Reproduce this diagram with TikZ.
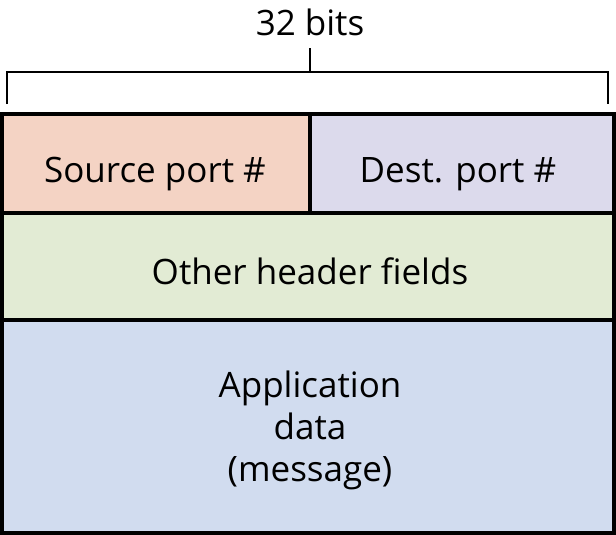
\documentclass[tikz,border=0pt]{standalone}
\usepackage{fontspec}
\setmainfont{Open Sans}
\definecolor{cs}{HTML}{F4D3C4}
\definecolor{cd}{HTML}{DCDAEC}
\definecolor{cg}{HTML}{E2EBD4}
\definecolor{cb}{HTML}{D1DCEF}
\tikzset{fld/.style={draw=black,line width=3.5pt},lbl/.style={font=\fontsize{35}{42}\selectfont,align=center}}
\begin{document}
\begin{tikzpicture}[x=1pt,y=-1pt]
\useasboundingbox (0,0) rectangle (616,535);
\fill[cs] (2,114) rectangle (310,213);
\fill[cd] (310,114) rectangle (614,213);
\fill[cg] (2,213) rectangle (614,320);
\fill[cb] (2,320) rectangle (614,533);
\draw[fld] (2,114) rectangle (614,533);
\draw[fld] (2,213) -- (614,213);
\draw[fld] (2,320) -- (614,320);
\draw[fld] (310,114) -- (310,213);
\node[lbl] (src) at (155,174) {Source port \#};
\node[lbl] (dst) at (458,174) {Dest. port \#};
\node[lbl] (oth) at (310,271) {Other header fields};
\node[lbl] (app) at (310,430) {Application\\data\\(message)};
\node[lbl] (bits) at (310,22) {32 bits};
\coordinate (bl) at (7,104);
\coordinate (br) at (608,104);
\draw[line width=1.8pt] (bl) -- (7,72) -- (608,72) -- (br);
\draw[line width=1.8pt] (310,72) -- (310,48);
\end{tikzpicture}
\end{document}
